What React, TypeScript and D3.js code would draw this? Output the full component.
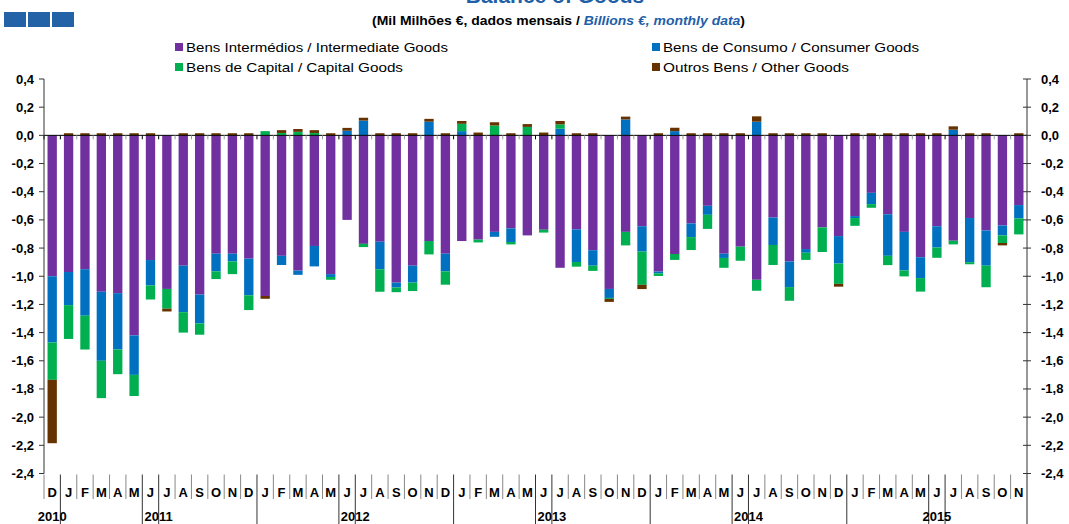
import React, { useEffect, useRef } from 'react';
import * as d3 from 'd3';

// month letters, Dec 2010 .. Nov 2015
const months = [
  'D',
  'J', 'F', 'M', 'A', 'M', 'J', 'J', 'A', 'S', 'O', 'N', 'D',
  'J', 'F', 'M', 'A', 'M', 'J', 'J', 'A', 'S', 'O', 'N', 'D',
  'J', 'F', 'M', 'A', 'M', 'J', 'J', 'A', 'S', 'O', 'N', 'D',
  'J', 'F', 'M', 'A', 'M', 'J', 'J', 'A', 'S', 'O', 'N', 'D',
  'J', 'F', 'M', 'A', 'M', 'J', 'J', 'A', 'S', 'O', 'N',
];
const years = ['2010', '2011', '2012', '2013', '2014', '2015'];

const intermediate = [
  -1.0, -0.97, -0.95, -1.11, -1.12, -1.42, -0.885, -1.09, -0.925, -1.13, -0.84, -0.84,
  -0.875, -1.14, -0.855, -0.96, -0.785, -0.985, -0.6, -0.77, -0.755, -1.045, -0.925, -0.75,
  -0.84, -0.75, -0.74, -0.685, -0.66, -0.71, -0.67, -0.94, -0.667, -0.815, -1.09, -0.685,
  -0.645, -0.967, -0.842, -0.625, -0.5, -0.84, -0.79, -1.025, -0.583, -0.895, -0.807, -0.653,
  -0.715, -0.573, -0.408, -0.56, -0.685, -0.865, -0.645, -0.748, -0.587, -0.675, -0.64, -0.495,
];
const consumer = [
  -0.47, -0.235, -0.33, -0.49, -0.4, -0.28, -0.18, 0, -0.33, -0.205, -0.125, -0.055,
  -0.26, 0, -0.065, -0.03, -0.145, -0.02, 0.033, 0.105, -0.195, -0.035, -0.12, 0.097,
  -0.125, 0.03, 0, -0.035, -0.097, 0, 0, 0.047, -0.232, -0.11, -0.064, 0.113,
  -0.18, -0.012, 0.03, -0.097, -0.064, -0.03, 0, 0.097, -0.195, -0.182, -0.026, 0,
  -0.195, -0.014, -0.08, -0.295, -0.274, -0.148, -0.151, 0.04, -0.313, -0.25, -0.07, -0.095,
];
const capital = [
  -0.265, -0.24, -0.24, -0.265, -0.175, -0.15, -0.1, -0.14, -0.145, -0.08, -0.055, -0.09,
  -0.105, 0.03, 0.017, 0.025, 0.017, -0.02, 0, -0.023, -0.16, -0.033, -0.06, -0.095,
  -0.095, 0.052, -0.02, 0.07, -0.017, 0.06, -0.02, 0.031, -0.033, -0.037, -0.007, -0.096,
  -0.236, -0.019, -0.042, -0.092, -0.1, -0.07, -0.1, -0.078, -0.142, -0.097, -0.051, -0.175,
  -0.144, -0.055, -0.026, -0.066, -0.042, -0.096, -0.073, -0.026, -0.015, -0.153, -0.054, -0.113,
];
const other = [
  -0.45, 0.015, 0.015, 0.015, 0.015, 0.015, 0.015, -0.02, 0.015, 0.015, 0.015, 0.015,
  0.015, -0.02, 0.02, 0.02, 0.02, 0.015, 0.02, 0.02, 0.015, 0.015, 0.015, 0.02,
  0.015, 0.02, 0.02, 0.023, 0.015, 0.02, 0.02, 0.024, 0.015, 0.015, -0.021, 0.02,
  -0.03, 0.015, 0.024, 0.015, 0.015, 0.015, 0.015, 0.038, 0.015, 0.015, 0.015, 0.015,
  -0.02, 0.015, 0.015, 0.015, 0.015, 0.015, 0.015, 0.024, 0.015, 0.015, -0.017, 0.015,
];

const seriesNames = [
  'Bens Intermédios / Intermediate Goods',
  'Bens de Consumo / Consumer Goods',
  'Bens de Capital / Capital Goods',
  'Outros Bens / Other Goods',
];
const seriesColors = ['#7030a0', '#0070c0', '#00b050', '#663300'];
const yTicks = [0.4, 0.2, 0, -0.2, -0.4, -0.6, -0.8, -1.0, -1.2, -1.4, -1.6, -1.8, -2.0, -2.2, -2.4];

const FONT = '"Liberation Sans", Arial, sans-serif';

const App: React.FC = () => {
  const svgRef = useRef<SVGSVGElement>(null);

  useEffect(() => {
    if (!svgRef.current) return;
    const svg = d3.select(svgRef.current);
    svg.selectAll('*').remove();

    const H = 524;
    const left = 44;
    const right = 1027;
    const top = 79;
    const bottom = 473.5;

    const rows = months.map((m, i) => ({
      i,
      s0: intermediate[i],
      s1: consumer[i],
      s2: capital[i],
      s3: other[i],
    }));
    const keys = ['s0', 's1', 's2', 's3'];

    const x = d3
      .scaleBand<number>()
      .domain(rows.map(d => d.i))
      .range([left, right])
      .paddingInner(0.43)
      .paddingOuter(0.215);
    const y = d3.scaleLinear().domain([-2.4, 0.4]).range([bottom, top]);

    const stack = d3
      .stack<any>()
      .keys(keys)
      .offset(d3.stackOffsetDiverging);
    const layers = stack(rows);

    // header
    svg
      .append('text')
      .attr('x', 555)
      .attr('y', 3)
      .attr('text-anchor', 'middle')
      .attr('font-family', FONT)
      .attr('font-size', 21)
      .attr('font-weight', 'bold')
      .attr('fill', '#1f5fa8')
      .text('Balance of Goods');

    [0, 1, 2].forEach(k => {
      svg
        .append('rect')
        .attr('x', 4 + k * 24)
        .attr('y', 12)
        .attr('width', 22)
        .attr('height', 15)
        .attr('fill', '#2462a8');
    });

    const sub = svg
      .append('text')
      .attr('x', 372)
      .attr('y', 25)
      .attr('font-family', FONT)
      .attr('font-size', 12.5)
      .attr('font-weight', 'bold')
      .attr('textLength', 373)
      .attr('lengthAdjust', 'spacingAndGlyphs')
      .attr('fill', '#000');
    sub.append('tspan').text('(Mil Milhões €, dados mensais / ');
    sub
      .append('tspan')
      .attr('fill', '#1f5fa8')
      .attr('font-style', 'italic')
      .text('Billions  €, monthly data');
    sub.append('tspan').text(')');

    // legend
    const legendPos = [
      { x: 175, y: 47, w: 262 },
      { x: 652, y: 47, w: 256 },
      { x: 175, y: 67, w: 217 },
      { x: 652, y: 67, w: 186 },
    ];
    seriesNames.forEach((name, k) => {
      const p = legendPos[k];
      svg
        .append('rect')
        .attr('x', p.x)
        .attr('y', p.y - 4)
        .attr('width', 8)
        .attr('height', 8)
        .attr('fill', seriesColors[k]);
      svg
        .append('text')
        .attr('x', p.x + 11)
        .attr('y', p.y + 5)
        .attr('font-family', FONT)
        .attr('font-size', 13.5)
        .attr('textLength', p.w)
        .attr('lengthAdjust', 'spacingAndGlyphs')
        .attr('fill', '#000')
        .text(name);
    });

    // bars
    const g = svg.append('g');
    layers.forEach((layer, k) => {
      g.selectAll(null)
        .data(layer)
        .enter()
        .append('rect')
        .attr('x', d => x(d.data.i) as number)
        .attr('width', x.bandwidth())
        .attr('y', d => y(Math.max(d[0], d[1])))
        .attr('height', d => Math.abs(y(d[0]) - y(d[1])))
        .attr('fill', seriesColors[k]);
    });

    // zero line and small ticks
    const step = x.step();
    svg
      .append('line')
      .attr('x1', left)
      .attr('x2', right)
      .attr('y1', y(0))
      .attr('y2', y(0))
      .attr('stroke', '#000')
      .attr('stroke-width', 1);
    d3.range(months.length + 1).forEach(i => {
      const xx = left + i * step;
      svg
        .append('line')
        .attr('x1', xx)
        .attr('x2', xx)
        .attr('y1', y(0))
        .attr('y2', y(0) + 4)
        .attr('stroke', months[i] === 'J' || i === 0 ? '#000' : '#999')
        .attr('stroke-width', 1);
    });

    // value axes, left and right
    const leftAxis = svg.append('g');
    leftAxis
      .append('line')
      .attr('x1', left)
      .attr('x2', left)
      .attr('y1', top)
      .attr('y2', bottom)
      .attr('stroke', '#333');
    const rightAxis = svg.append('g');
    rightAxis
      .append('line')
      .attr('x1', right)
      .attr('x2', right)
      .attr('y1', top)
      .attr('y2', H)
      .attr('stroke', '#333');

    const fmt = (v: number) => {
      const s = Math.abs(v).toFixed(1).replace('.', ',');
      return (v < 0 ? '-' : '') + s;
    };
    yTicks.forEach(v => {
      const yy = y(v);
      leftAxis
        .append('line')
        .attr('x1', left - 5)
        .attr('x2', left)
        .attr('y1', yy)
        .attr('y2', yy)
        .attr('stroke', '#333');
      leftAxis
        .append('text')
        .attr('x', 34)
        .attr('y', yy + 4.5)
        .attr('text-anchor', 'end')
        .attr('font-family', FONT)
        .attr('font-size', 13)
        .attr('font-weight', 'bold')
        .text(fmt(v));
      rightAxis
        .append('line')
        .attr('x1', right - 4)
        .attr('x2', right + 4)
        .attr('y1', yy)
        .attr('y2', yy)
        .attr('stroke', '#333');
      rightAxis
        .append('text')
        .attr('x', 1041)
        .attr('y', yy + 4.5)
        .attr('text-anchor', 'start')
        .attr('font-family', FONT)
        .attr('font-size', 13)
        .attr('font-weight', 'bold')
        .text(fmt(v));
    });

    // category axis at bottom
    const catTop = bottom + 1;
    const yearOf = (i: number) => Math.floor((i + 11) / 12);
    d3.range(months.length + 1).forEach(i => {
      const xx = left + i * step;
      const isYear = i > 0 && i < months.length && months[i] === 'J';
      svg
        .append('line')
        .attr('x1', xx)
        .attr('x2', xx)
        .attr('y1', catTop)
        .attr('y2', isYear || i === months.length ? H : 499)
        .attr('stroke', isYear ? '#333' : '#888')
        .attr('stroke-width', 1);
    });
    months.forEach((m, i) => {
      svg
        .append('text')
        .attr('x', (x(i) as number) + x.bandwidth() / 2)
        .attr('y', 497)
        .attr('text-anchor', 'middle')
        .attr('font-family', FONT)
        .attr('font-size', 13)
        .attr('font-weight', 'bold')
        .text(m);
    });
    years.forEach((yr, k) => {
      const idx = d3.range(months.length).filter(i => yearOf(i) === k);
      const x0 = left + d3.min(idx)! * step;
      const x1 = left + (d3.max(idx)! + 1) * step;
      svg
        .append('text')
        .attr('x', (x0 + x1) / 2)
        .attr('y', 521)
        .attr('text-anchor', 'middle')
        .attr('font-family', FONT)
        .attr('font-size', 13)
        .attr('font-weight', 'bold')
        .text(yr);
    });
  }, []);

  return (
    <svg
      ref={svgRef}
      width={1069}
      height={524}
      style={{ position: 'absolute', left: 0, top: 0, background: '#fff' }}
    />
  );
};

export default App;
